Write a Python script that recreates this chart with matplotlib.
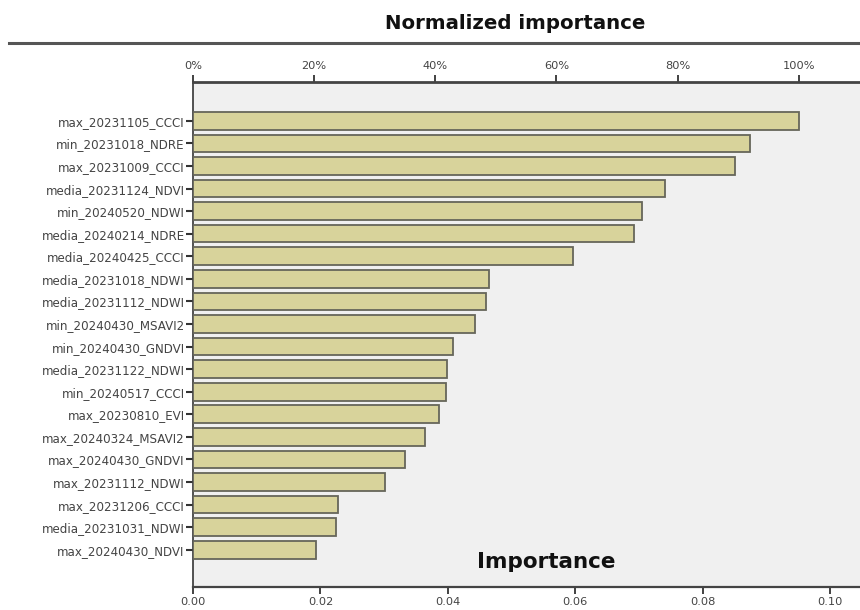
import numpy as np
import matplotlib.pyplot as plt

plt.rcParams['font.family'] = ['DejaVu Sans']

# variables, ordered from most to least important
features = [
    'max_20231105_CCCI', 'min_20231018_NDRE', 'max_20231009_CCCI',
    'media_20231124_NDVI', 'min_20240520_NDWI', 'media_20240214_NDRE',
    'media_20240425_CCCI', 'media_20231018_NDWI', 'media_20231112_NDWI',
    'min_20240430_MSAVI2', 'min_20240430_GNDVI', 'media_20231122_NDWI',
    'min_20240517_CCCI', 'max_20230810_EVI', 'max_20240324_MSAVI2',
    'max_20240430_GNDVI', 'max_20231112_NDWI', 'max_20231206_CCCI',
    'media_20231031_NDWI', 'max_20240430_NDVI',
]
importance = [
    0.0951, 0.0874, 0.0851, 0.0741, 0.0705, 0.0692, 0.0597, 0.0465,
    0.0460, 0.0443, 0.0408, 0.0399, 0.0397, 0.0386, 0.0364, 0.0333,
    0.0301, 0.0228, 0.0224, 0.0193,
]
imp_ticks = [0.00, 0.02, 0.04, 0.06, 0.08, 0.10]
pct_ticks = [0, 20, 40, 60, 80, 100]

fig = plt.figure(figsize=(8.6, 6.1), dpi=100)
ax = fig.add_axes([0.2244, 0.0377, 0.7756, 0.8279])
ax.set_facecolor('#f0f0f0')

y = np.arange(len(features))
ax.barh(y, importance, height=0.78, color='#d8d39b', edgecolor='#66665a',
        linewidth=1.3, zorder=3)

xmax = 0.1047
ax.set_xlim(0, xmax)
ax.set_ylim(len(features) - 1 + 1.65, -1.72)
ax.set_yticks(y)
ax.set_yticklabels(features, fontsize=8.6, color='#444444')
ax.set_xticks(imp_ticks)
ax.set_xticklabels(['%.2f' % t for t in imp_ticks], fontsize=8.2, color='#444444')
ax.tick_params(axis='y', length=5, width=1.5, color='#333333', pad=1)
ax.tick_params(axis='x', length=5, width=1.3, color='#333333', pad=2)

for s in ['top', 'right']:
    ax.spines[s].set_visible(False)
ax.spines['left'].set_color('#444444')
ax.spines['left'].set_linewidth(1.3)
ax.spines['bottom'].set_color('#444444')
ax.spines['bottom'].set_linewidth(1.6)

ax.text(0.53, 0.05, 'Importance', transform=ax.transAxes, ha='center',
        va='center', fontsize=15.5, fontweight='bold', color='#111111')

# normalized axis on top
top = ax.twiny()
top.set_xlim(0, xmax / max(importance) * 100)
top.set_xticks(pct_ticks)
top.set_xticklabels(['%d%%' % t for t in pct_ticks], fontsize=8.2, color='#444444')
top.tick_params(axis='x', length=5, width=1.3, color='#333333', pad=3)
for s in ['bottom', 'right', 'left']:
    top.spines[s].set_visible(False)
top.spines['top'].set_color('#444444')
top.spines['top'].set_linewidth(2)

fig.text(0.599, 0.962, 'Normalized importance', ha='center', va='center',
         fontsize=14.2, fontweight='bold', color='#111111')
fig.add_artist(plt.Line2D([0.01, 1.0], [0.9295, 0.9295], color='#555555',
                          linewidth=2.2, transform=fig.transFigure))

fig.savefig('out.png', dpi=100)
